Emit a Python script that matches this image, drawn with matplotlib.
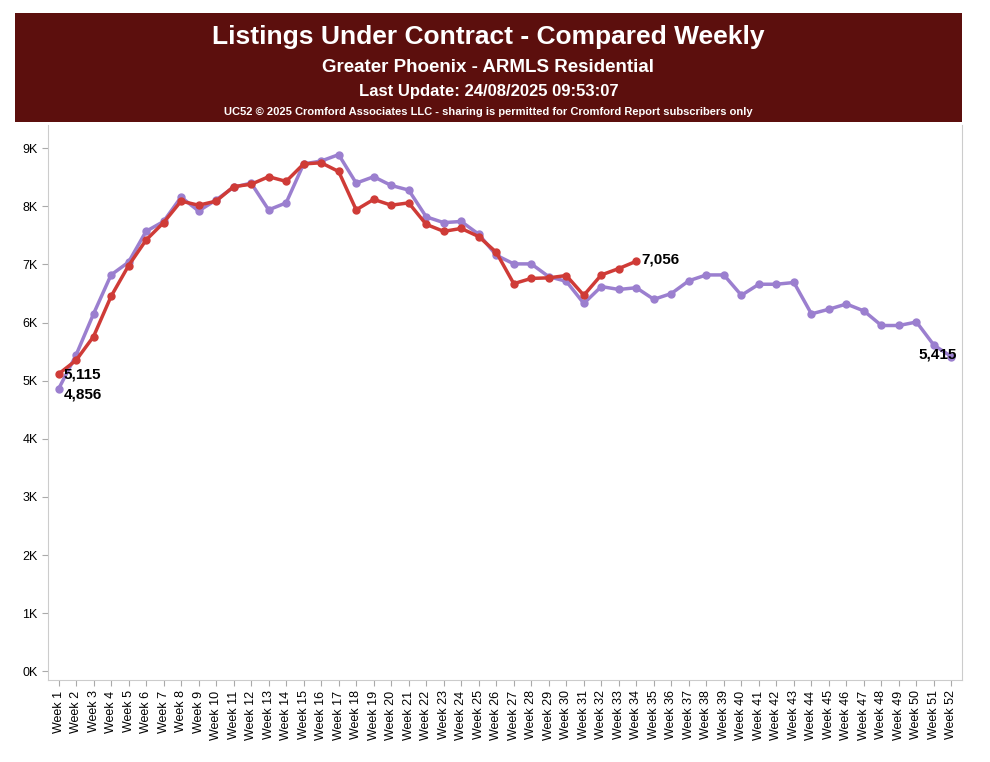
import numpy as np
import matplotlib.pyplot as plt

plt.rcParams['font.family'] = ['Liberation Sans', 'DejaVu Sans']

weeks = [f"Week {i}" for i in range(1, 53)]

# 2024 (purple) - full year
prev_year = [4856, 5440, 6150, 6820, 7040, 7570, 7740, 8160, 7920, 8110,
             8330, 8400, 7940, 8060, 8730, 8780, 8890, 8400, 8510, 8360,
             8280, 7820, 7720, 7740, 7520, 7160, 7010, 7010, 6790, 6710,
             6330, 6620, 6570, 6600, 6400, 6500, 6720, 6820, 6820, 6470,
             6660, 6660, 6690, 6150, 6230, 6320, 6200, 5950, 5950, 6010,
             5610, 5415]

# 2025 (red) - to date
this_year = [5115, 5350, 5760, 6450, 6980, 7420, 7720, 8090, 8020, 8090,
             8340, 8380, 8510, 8430, 8730, 8750, 8600, 7940, 8120, 8020,
             8060, 7690, 7570, 7620, 7480, 7210, 6670, 6760, 6770, 6810,
             6470, 6820, 6930, 7056]

purple = "#9b7fcf"
red = "#cf3b37"

fig = plt.figure(figsize=(9.9, 7.62), dpi=100)

# header banner
hdr = fig.add_axes([15 / 990, 1 - 122 / 762, 947 / 990, 109 / 762])
hdr.set_facecolor("#5c0f0d")
hdr.set_xticks([]); hdr.set_yticks([])
for s in hdr.spines.values():
    s.set_visible(False)
hdr.text(0.5, 0.78, "Listings Under Contract - Compared Weekly", color="white",
         fontsize=19, fontweight="bold", ha="center", va="center")
hdr.text(0.5, 0.50, "Greater Phoenix - ARMLS Residential", color="white",
         fontsize=13.5, fontweight="bold", ha="center", va="center")
hdr.text(0.5, 0.28, "Last Update: 24/08/2025 09:53:07", color="white",
         fontsize=12, fontweight="bold", ha="center", va="center")
hdr.text(0.5, 0.09, "UC52 \u00a9 2025 Cromford Associates LLC - sharing is permitted for Cromford Report subscribers only",
         color="white", fontsize=8, fontweight="bold", ha="center", va="center")

ax = fig.add_axes([48 / 990, 1 - 680 / 762, 914 / 990, 555 / 762])
x = np.arange(len(weeks))
ax.plot(x, prev_year, color=purple, lw=2.5, marker="o", ms=5, zorder=2)
ax.plot(x[:len(this_year)], this_year, color=red, lw=2.5, marker="o", ms=5, zorder=3)

ax.set_xlim(-0.6, len(weeks) - 0.4)
ax.set_ylim(-150, 9400)
ax.set_yticks(np.arange(0, 9001, 1000))
ax.set_yticklabels([f"{i}K" for i in range(10)], fontsize=9)
ax.set_xticks(x)
ax.set_xticklabels(weeks, rotation=90, fontsize=9)
ax.tick_params(length=4, color="#aaaaaa")
for s in ["top"]:
    ax.spines[s].set_visible(False)
for s in ["left", "bottom", "right"]:
    ax.spines[s].set_color("#cccccc")

lbl = dict(fontsize=11, fontweight="bold", va="center")
ax.text(0.3, this_year[0], f"{this_year[0]:,}", **lbl)
ax.text(0.3, prev_year[0] - 100, f"{prev_year[0]:,}", **lbl)
ax.text(len(this_year) - 1 + 0.3, this_year[-1] + 30, f"{this_year[-1]:,}", **lbl)
ax.text(len(weeks) - 1 + 0.3, prev_year[-1] + 30, f"{prev_year[-1]:,}", ha="right", **{k: v for k, v in lbl.items()})

fig.savefig("out.png", dpi=100)
